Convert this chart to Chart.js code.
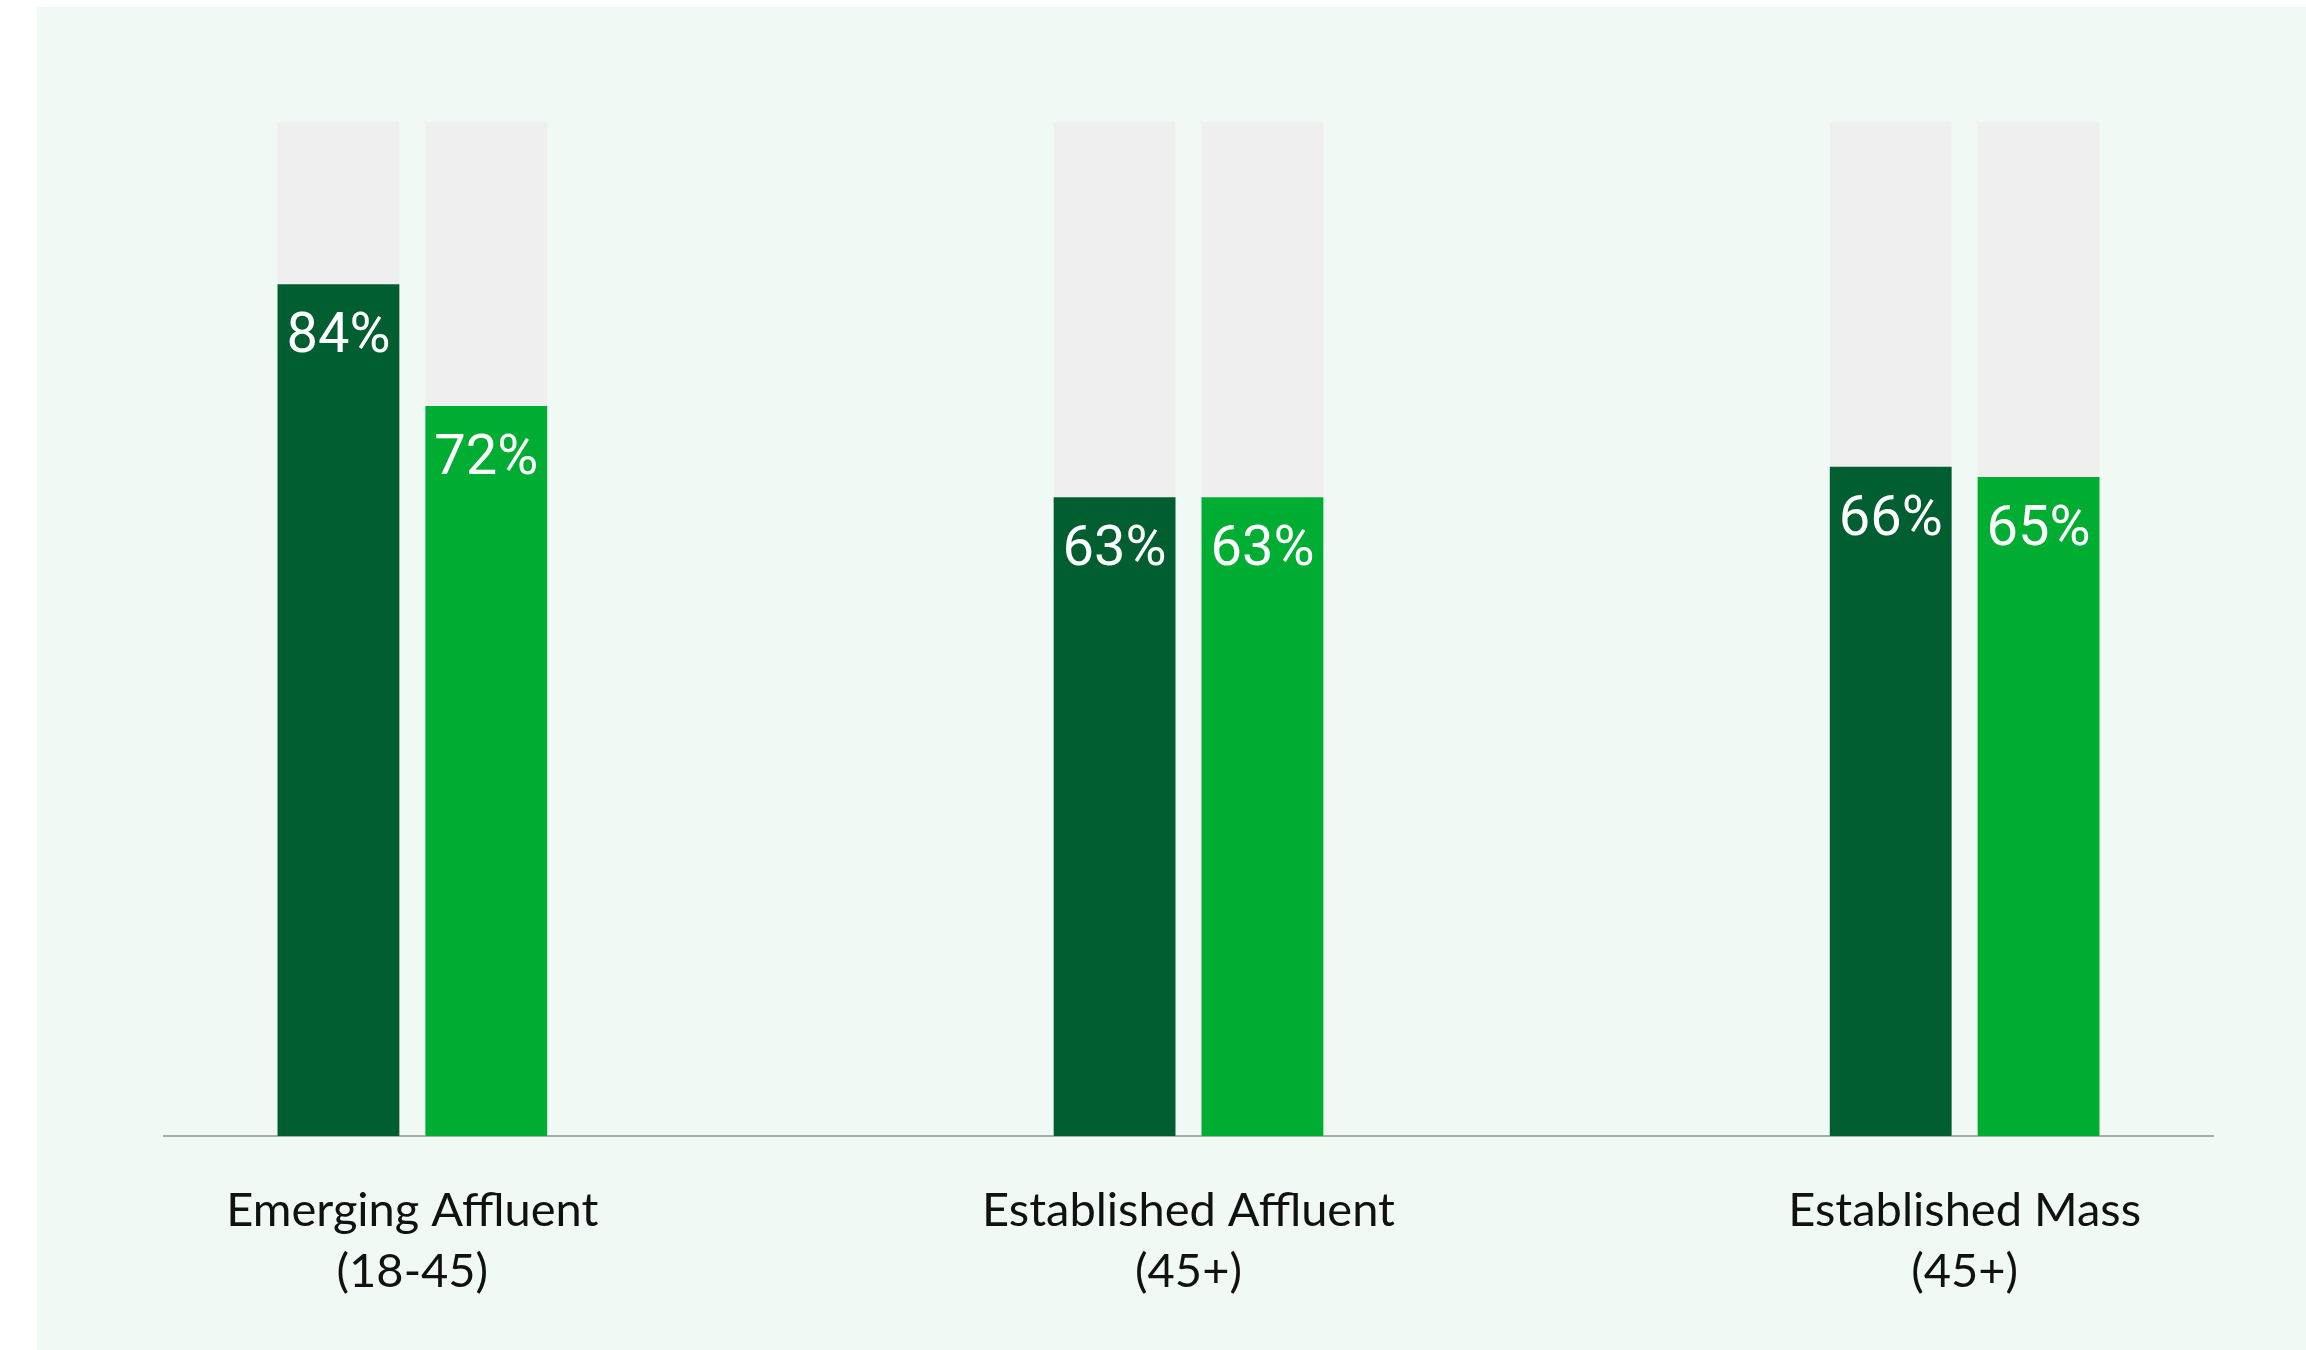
<!DOCTYPE html>
<html>
<head>
<meta charset="utf-8">
<script src="https://cdn.jsdelivr.net/npm/chart.js@4/dist/chart.umd.min.js"></script>
<style>
  html, body { margin: 0; padding: 0; background: #ffffff; width: 2306px; height: 1350px; overflow: hidden; }
  #panel { position: absolute; left: 37px; top: 7px; width: 2269px; height: 1343px; background: #f1f9f5; }
  #chart { display: block; }
</style>
</head>
<body>
<div id="panel"><canvas id="chart" width="2269" height="1343"></canvas></div>
<script>
// Segments shown along the axis (two lines each)
const categories = [
  ['Emerging Affluent', '(18-45)'],
  ['Established Affluent', '(45+)'],
  ['Established Mass', '(45+)']
];
// Share (%) for the two groups compared within each segment
const darkValues = [84, 63, 66];
const lightValues = [72, 63, 65];
// Full-scale track behind every bar
const trackValues = [100, 100, 100];
const axisMax = 100;

const DARK = '#005e30';
const LIGHT = '#00ad33';
const TRACK = '#efefef';

const toPoints = arr => arr.map((v, i) => ({ x: i, y: v }));

// White percentage text placed just inside the top of each coloured bar
const valueLabels = {
  id: 'valueLabels',
  afterDatasetsDraw(chart) {
    const ctx = chart.ctx;
    ctx.save();
    ctx.fillStyle = '#ffffff';
    ctx.font = '56px Roboto';
    ctx.textAlign = 'center';
    ctx.textBaseline = 'alphabetic';
    chart.data.datasets.forEach((ds, di) => {
      if (!ds.showValue) return;
      chart.getDatasetMeta(di).data.forEach((bar, i) => {
        ctx.fillText(ds.data[i].y + '%', bar.x, bar.y + 68);
      });
    });
    ctx.restore();
  }
};

new Chart(document.getElementById('chart'), {
  type: 'bar',
  data: {
    datasets: [
      { data: toPoints(darkValues), backgroundColor: DARK, stack: 'a', order: 0, showValue: true },
      { data: toPoints(lightValues), backgroundColor: LIGHT, stack: 'b', order: 0, showValue: true },
      { data: toPoints(trackValues), backgroundColor: TRACK, stack: 'a', order: 1 },
      { data: toPoints(trackValues), backgroundColor: TRACK, stack: 'b', order: 1 }
    ]
  },
  options: {
    responsive: false,
    animation: false,
    devicePixelRatio: 1,
    categoryPercentage: 0.381,
    barPercentage: 0.824,
    layout: { padding: { left: 127, right: 93, top: 115, bottom: 0 } },
    plugins: { legend: { display: false }, tooltip: { enabled: false } },
    scales: {
      x: {
        type: 'linear',
        stacked: true,
        offset: false,
        min: -0.32,
        max: 2.32,
        afterDataLimits: scale => { scale.min = -0.32; scale.max = 2.32; },
        afterBuildTicks: scale => { scale.ticks = categories.map((_, i) => ({ value: i })); },
        afterFit: scale => { scale.height = 214; },
        grid: { display: false, drawTicks: false, offset: false },
        border: { display: true, color: '#aaaaaa', width: 2 },
        ticks: {
          autoSkip: false,
          maxRotation: 0,
          padding: 44,
          color: '#111111',
          font: { family: 'Lato', size: 47, lineHeight: 1.3 },
          callback: v => categories[v] || ''
        }
      },
      y: {
        stacked: false,
        min: 0,
        max: axisMax,
        display: false
      }
    }
  },
  plugins: [valueLabels]
});
</script>
</body>
</html>
